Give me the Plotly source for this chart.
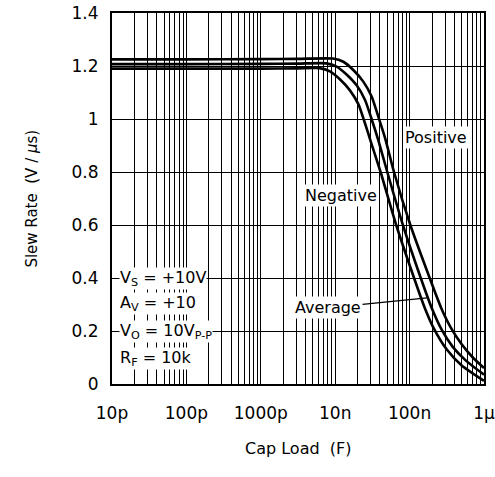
import plotly.graph_objects as go

# slew rate vs cap load (log10 of cap load in farads)
log_cap_pos = [-11, -10, -9, -8.5, -8.03, -7.891, -7.757, -7.622, -7.509, -7.421,
               -7.331, -7.21, -6.99, -6.73, -6.58, -6.45, -6.3, -6.15, -6.0]
positive = [1.225, 1.225, 1.226, 1.227, 1.228, 1.216, 1.185, 1.141, 1.084, 1.009,
            0.93, 0.8, 0.6, 0.4, 0.29, 0.215, 0.15, 0.1, 0.06]

log_cap_avg = [-11, -10, -9, -8.5, -8.12, -7.981, -7.847, -7.712, -7.599, -7.511,
               -7.421, -7.30, -7.09, -6.85, -6.70, -6.569, -6.42, -6.25, -6.0]
average = [1.207, 1.207, 1.208, 1.209, 1.21, 1.198, 1.168, 1.127, 1.072, 1.0,
           0.92, 0.8, 0.6, 0.4, 0.285, 0.205, 0.14, 0.09, 0.035]

log_cap_neg = [-11, -10, -9, -8.5, -8.21, -8.071, -7.937, -7.802, -7.689, -7.601,
               -7.511, -7.39, -7.18, -6.94, -6.80, -6.675, -6.5, -6.3, -6.0]
negative = [1.19, 1.19, 1.19, 1.191, 1.192, 1.18, 1.15, 1.108, 1.056, 0.985,
            0.905, 0.8, 0.6, 0.4, 0.29, 0.21, 0.13, 0.07, 0.012]

x_tick_text = ['10p', '100p', '1000p', '10n', '100n', '1µ']
y_ticks = [0, 0.2, 0.4, 0.6, 0.8, 1, 1.2, 1.4]
y_tick_text = ['0', '0.2', '0.4', '0.6', '0.8', '1', '1.2', '1.4']

FONT = 'DejaVu Sans'

fig = go.Figure()
for lx, ys in [(log_cap_pos, positive), (log_cap_avg, average), (log_cap_neg, negative)]:
    fig.add_trace(go.Scatter(x=[10 ** v for v in lx], y=ys, mode='lines',
                             line=dict(color='black', width=2.6, shape='spline', smoothing=0.6),
                             showlegend=False, hoverinfo='skip'))

# log grid: every 1..9 in each decade, label only the decades
tickvals = []
ticktext = []
for i, e in enumerate(range(-11, -6)):
    for m in range(1, 10):
        tickvals.append(m * 10.0 ** e)
        ticktext.append(x_tick_text[i] if m == 1 else '')
tickvals.append(1e-6)
ticktext.append(x_tick_text[-1])

fig.update_xaxes(type='log', range=[-11, -6], tickvals=tickvals, ticktext=ticktext,
                 showgrid=True, gridcolor='black', gridwidth=1.3,
                 showline=True, linecolor='black', linewidth=2, mirror=True,
                 ticks='', ticklabelstandoff=13, zeroline=False, automargin=False,
                 ticklabeloverflow='allow',
                 tickfont=dict(family=FONT, size=17, color='black'))
fig.update_yaxes(range=[0, 1.4], tickvals=y_ticks, ticktext=y_tick_text,
                 showgrid=True, gridcolor='black', gridwidth=1.3,
                 showline=True, linecolor='black', linewidth=2, mirror=True,
                 ticks='', ticklabelstandoff=8, zeroline=False, automargin=False,
                 ticklabeloverflow='allow',
                 tickfont=dict(family=FONT, size=17, color='black'))

# axis titles
fig.add_annotation(xref='paper', yref='paper', x=0.5, y=-0.205, text='Cap Load  (F)',
                   showarrow=False, font=dict(family=FONT, size=16, color='black'))
fig.add_annotation(xref='paper', yref='paper', x=-0.247, y=0.5, textangle=-90,
                   text='Slew Rate  (V / <i>µ</i>s)', showarrow=False,
                   font=dict(family=FONT, size=15, color='black'))

lab = dict(family=FONT, size=16, color='black')
fig.add_annotation(x=-6.645, y=0.932, text='Positive', showarrow=False,
                   bgcolor='white', font=lab, borderpad=1)
fig.add_annotation(x=-7.922, y=0.713, text='Negative', showarrow=False,
                   bgcolor='white', font=lab, borderpad=1)
fig.add_annotation(x=-6.766, y=0.325, text='Average', showarrow=True,
                   ax=-99, ay=10, arrowhead=0, arrowwidth=1.3, arrowcolor='black',
                   bgcolor='white', font=lab, borderpad=1)

conditions = ['V<sub>S</sub> = +10V', 'A<sub>V</sub> = +10',
              'V<sub>O</sub> = 10V<sub>P-P</sub>', 'R<sub>F</sub> = 10k']
cond_y = [0.40, 0.305, 0.20, 0.095]
for t, yv in zip(conditions, cond_y):
    fig.add_annotation(x=-10.9, y=yv, text=t, showarrow=False, xanchor='left',
                       bgcolor='white', font=lab, borderpad=0)

fig.update_layout(width=495, height=477, margin=dict(l=112, r=11, t=13, b=93),
                  plot_bgcolor='white', paper_bgcolor='white')

# drop the default page margin so the figure sits at the window corner
fig.write_html('out.html', config={'displayModeBar': False},
               post_script="document.body.style.margin='0px';")
